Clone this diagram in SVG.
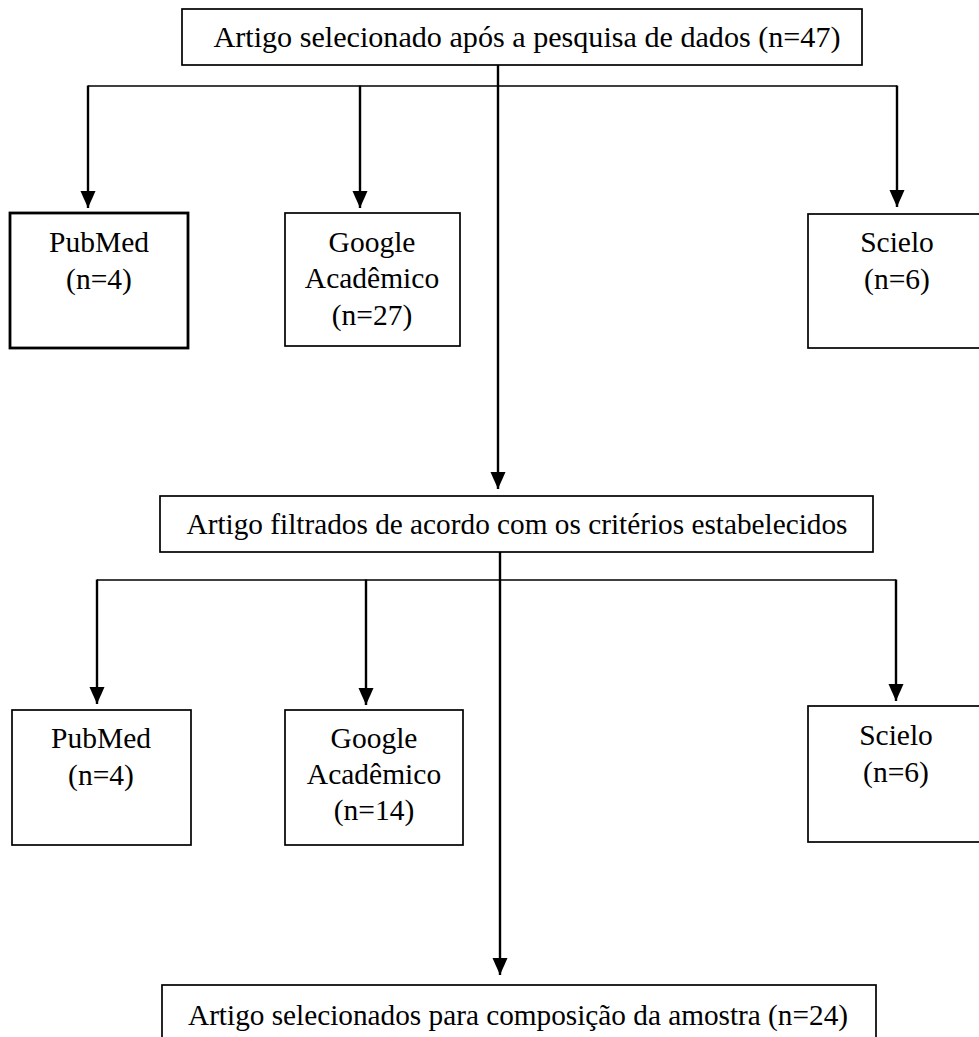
<svg xmlns="http://www.w3.org/2000/svg" width="979" height="1037" viewBox="0 0 979 1037">
<style>
.box{fill:#fff;stroke:#000;stroke-width:1.7}
.thick{stroke-width:2.8}
.t{font-family:"Liberation Serif","Times New Roman",serif;font-size:29.5px;fill:#000;text-anchor:middle}
.ln{stroke:#000;stroke-width:2.4;fill:none}
.hl{stroke:#000;stroke-width:1.6;fill:none}
</style>
<defs>
<marker id="ah" markerUnits="userSpaceOnUse" markerWidth="18" markerHeight="18" viewBox="0 0 18 18" refX="17" refY="9" orient="auto">
<path d="M0,1.5 L17,9 L0,16.5 Z" fill="#000"/>
</marker>
</defs>
<rect width="979" height="1037" fill="#fff"/>
<g id="connectors">
<line class="ln" x1="498" y1="65" x2="498" y2="489" marker-end="url(#ah)"/>
<line class="hl" x1="88" y1="86" x2="897" y2="86"/>
<line class="ln" x1="88" y1="85.5" x2="88" y2="208" marker-end="url(#ah)"/>
<line class="ln" x1="360" y1="85.5" x2="360" y2="208" marker-end="url(#ah)"/>
<line class="ln" x1="897" y1="85.5" x2="897" y2="207" marker-end="url(#ah)"/>
<line class="ln" x1="500" y1="552" x2="500" y2="975" marker-end="url(#ah)"/>
<line class="hl" x1="97" y1="580" x2="896" y2="580"/>
<line class="ln" x1="97" y1="579.5" x2="97" y2="704" marker-end="url(#ah)"/>
<line class="ln" x1="366" y1="579.5" x2="366" y2="705" marker-end="url(#ah)"/>
<line class="ln" x1="896" y1="579.5" x2="896" y2="701" marker-end="url(#ah)"/>
</g>
<g id="n-top">
<rect class="box" x="182" y="9" width="680" height="56"/>
<text class="t" x="527" y="47" textLength="627" lengthAdjust="spacingAndGlyphs">Artigo selecionado após a pesquisa de dados (n=47)</text>
</g>
<g id="n-pubmed1">
<rect class="box thick" x="10" y="213" width="178" height="135"/>
<text class="t" x="99" y="252">PubMed</text>
<text class="t" x="99" y="289">(n=4)</text>
</g>
<g id="n-google1">
<rect class="box" x="285" y="213" width="175" height="133"/>
<text class="t" x="372" y="252">Google</text>
<text class="t" x="372" y="288">Acadêmico</text>
<text class="t" x="372" y="325">(n=27)</text>
</g>
<g id="n-scielo1">
<rect class="box" x="808" y="214" width="180" height="134"/>
<text class="t" x="897" y="252">Scielo</text>
<text class="t" x="897" y="289">(n=6)</text>
</g>
<g id="n-filtrados">
<rect class="box" x="160" y="496" width="713" height="56"/>
<text class="t" x="517" y="534" textLength="661" lengthAdjust="spacingAndGlyphs">Artigo filtrados de acordo com os critérios estabelecidos</text>
</g>
<g id="n-pubmed2">
<rect class="box" x="12" y="710" width="179" height="135"/>
<text class="t" x="101" y="748">PubMed</text>
<text class="t" x="101" y="785">(n=4)</text>
</g>
<g id="n-google2">
<rect class="box" x="285" y="710" width="178" height="135"/>
<text class="t" x="374" y="748">Google</text>
<text class="t" x="374" y="784">Acadêmico</text>
<text class="t" x="374" y="820">(n=14)</text>
</g>
<g id="n-scielo2">
<rect class="box" x="808" y="706" width="180" height="136"/>
<text class="t" x="896" y="745">Scielo</text>
<text class="t" x="896" y="782">(n=6)</text>
</g>
<g id="n-amostra">
<rect class="box" x="162" y="985" width="714" height="60"/>
<text class="t" x="518" y="1025" textLength="660" lengthAdjust="spacingAndGlyphs">Artigo selecionados para composição da amostra (n=24)</text>
</g>
</svg>
